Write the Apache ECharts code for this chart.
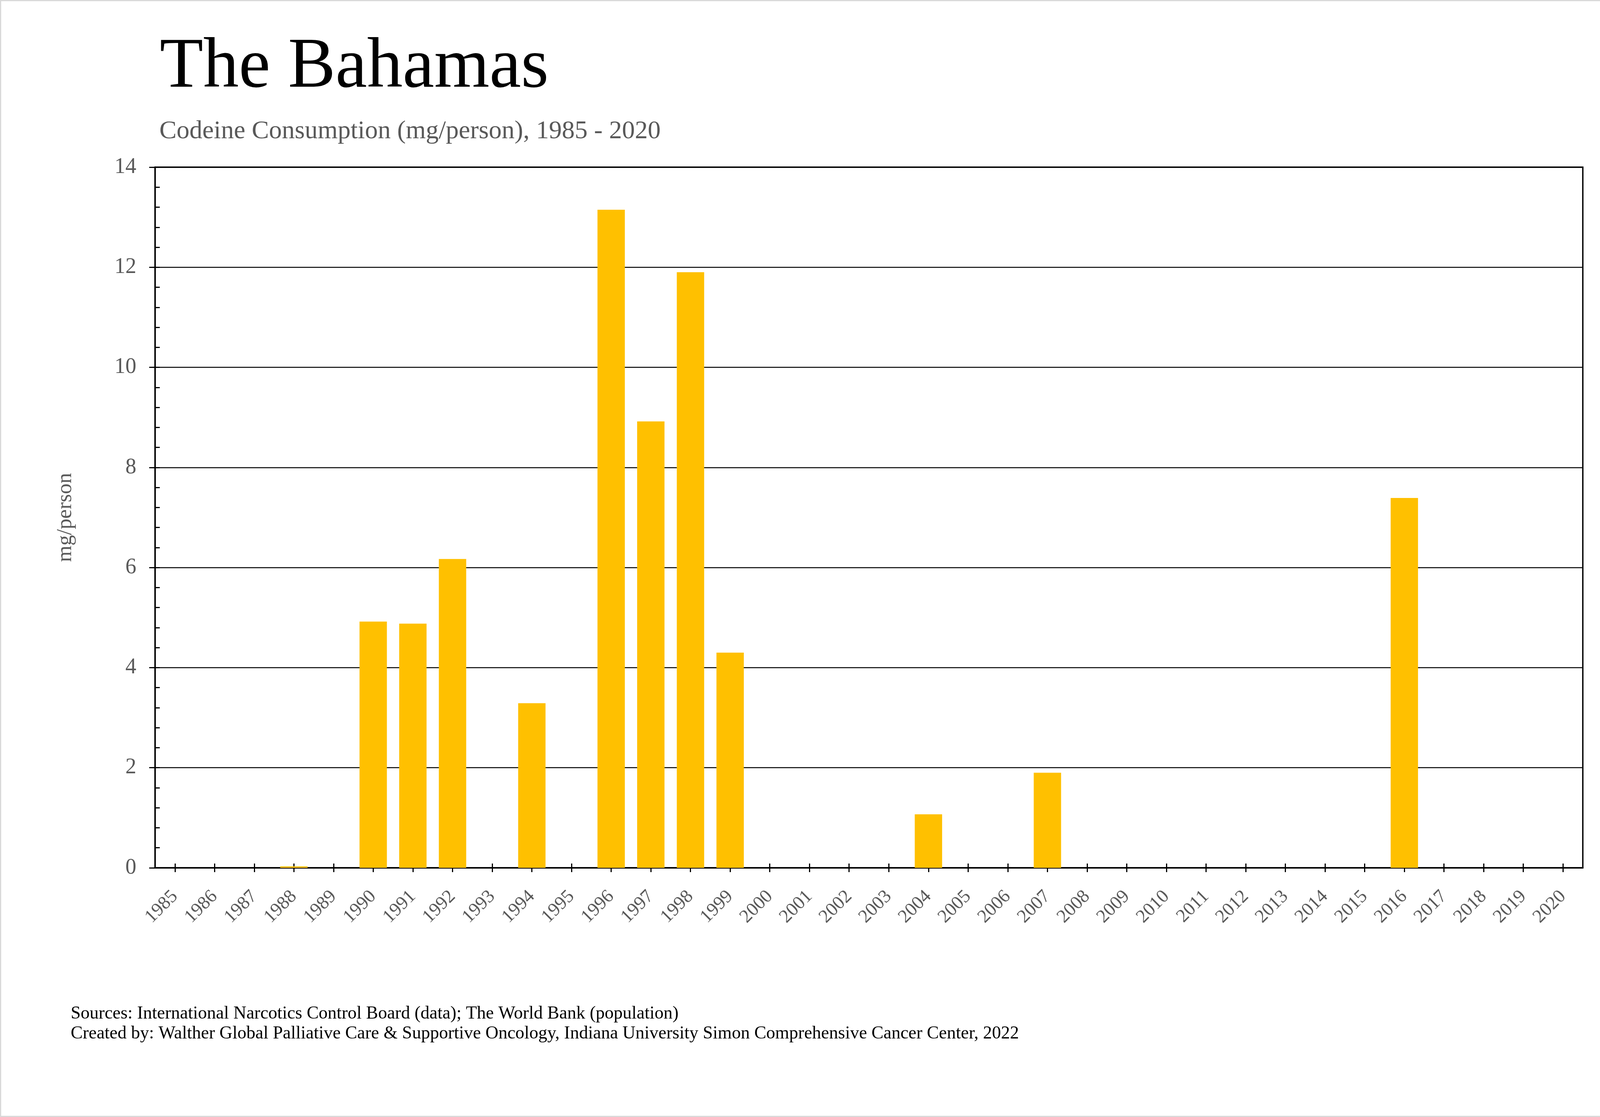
<!DOCTYPE html>
<html>
<head>
<meta charset="utf-8">
<title>The Bahamas - Codeine Consumption</title>
<script src="https://cdn.jsdelivr.net/npm/echarts/dist/echarts.min.js"></script>
<style>
    html, body { margin: 0; padding: 0; background: #ffffff; }
    #main { width: 4221px; height: 2860px; }
</style>
</head>
<body>
<div id="main"></div>
<script>
var years = ['1985', '1986', '1987', '1988', '1989', '1990', '1991', '1992', '1993', '1994',
    '1995', '1996', '1997', '1998', '1999', '2000', '2001', '2002', '2003', '2004',
    '2005', '2006', '2007', '2008', '2009', '2010', '2011', '2012', '2013', '2014',
    '2015', '2016', '2017', '2018', '2019', '2020'];
// mg/person
var codeine = [0, 0, 0, 0.03, 0, 4.92, 4.88, 6.17, 0, 3.29,
    0, 13.15, 8.92, 11.90, 4.30, 0, 0, 0, 0, 1.07,
    0, 0, 1.90, 0, 0, 0, 0, 0, 0, 0,
    0, 7.39, 0, 0, 0, 0];
var yMin = 0;
var yMax = 14;
var yStep = 2;
var yMinorStep = 0.4;

var titleText = 'The Bahamas';
var subtitleText = 'Codeine Consumption (mg/person), 1985 - 2020';
var sourceText = 'Sources: International Narcotics Control Board (data); The World Bank (population)';
var creditText = 'Created by: Walther Global Palliative Care & Supportive Oncology, Indiana University Simon Comprehensive Cancer Center, 2022';

var serif = '"Liberation Serif", "Times New Roman", serif';
var grey = '#595959';

var myChart = echarts.init(document.getElementById('main'));

var option = {
    animation: false,
    backgroundColor: '#ffffff',
    title: [{
        text: titleText,
        left: 404,
        top: 78,
        textStyle: { fontFamily: serif, fontSize: 182, fontWeight: 'normal', color: '#000000' }
    }, {
        text: subtitleText,
        left: 403,
        top: 299,
        textStyle: { fontFamily: serif, fontSize: 66, fontWeight: 'normal', color: grey }
    }, {
        text: sourceText,
        left: 176,
        top: 2568,
        textStyle: { fontFamily: serif, fontSize: 46, fontWeight: 'normal', color: '#000000' }
    }, {
        text: creditText,
        left: 176,
        top: 2619,
        textStyle: { fontFamily: serif, fontSize: 46, fontWeight: 'normal', color: '#000000' }
    }],
    graphic: [{
        type: 'rect',
        shape: { x: 1.5, y: 1.5, width: 4218, height: 2857 },
        style: { fill: null, stroke: '#d9d9d9', lineWidth: 3 },
        silent: true
    }],
    grid: {
        left: 397,
        right: 169,
        top: 428,
        bottom: 638,
        show: true,
        borderColor: '#000000',
        borderWidth: 3.5,
        containLabel: false
    },
    xAxis: [{
        type: 'category',
        data: years,
        boundaryGap: true,
        axisLine: { show: true, lineStyle: { color: '#000000', width: 3.5 } },
        axisTick: { show: true, alignWithLabel: true, length: 11, lineStyle: { color: '#000000', width: 3 } },
        axisLabel: {
            interval: 0,
            rotate: 45,
            margin: 66,
            fontFamily: serif,
            fontSize: 48,
            color: grey
        },
        splitLine: { show: false }
    }, {
        // ticks on the inner side, so they cross the axis
        type: 'category',
        data: years,
        position: 'bottom',
        offset: 0,
        boundaryGap: true,
        axisLine: { show: false },
        axisTick: { show: true, inside: true, alignWithLabel: true, length: 11, lineStyle: { color: '#000000', width: 3 } },
        axisLabel: { show: false },
        splitLine: { show: false }
    }],
    yAxis: [{
        type: 'value',
        min: yMin,
        max: yMax,
        interval: yStep,
        position: 'left',
        name: 'mg/person',
        nameLocation: 'middle',
        nameRotate: 90,
        nameGap: 202,
        nameTextStyle: { fontFamily: serif, fontSize: 54, color: grey },
        axisLine: { show: true, lineStyle: { color: '#000000', width: 3.5 } },
        axisTick: { show: true, length: 15, lineStyle: { color: '#000000', width: 3 } },
        axisLabel: { margin: 48, fontFamily: serif, fontSize: 56, color: grey },
        splitLine: { show: true, lineStyle: { color: '#000000', width: 2.5 } }
    }, {
        // minor ticks, inside
        type: 'value',
        min: yMin,
        max: yMax,
        interval: yMinorStep,
        position: 'left',
        offset: 0,
        axisLine: { show: false },
        axisTick: { show: true, inside: true, length: 12, lineStyle: { color: '#000000', width: 3 } },
        axisLabel: { show: false },
        splitLine: { show: false }
    }],
    series: [{
        name: 'Codeine',
        type: 'bar',
        xAxisIndex: 0,
        yAxisIndex: 0,
        barCategoryGap: '31%',
        itemStyle: { color: '#FFC000' },
        data: codeine
    }]
};
myChart.setOption(option);
</script>
</body>
</html>
